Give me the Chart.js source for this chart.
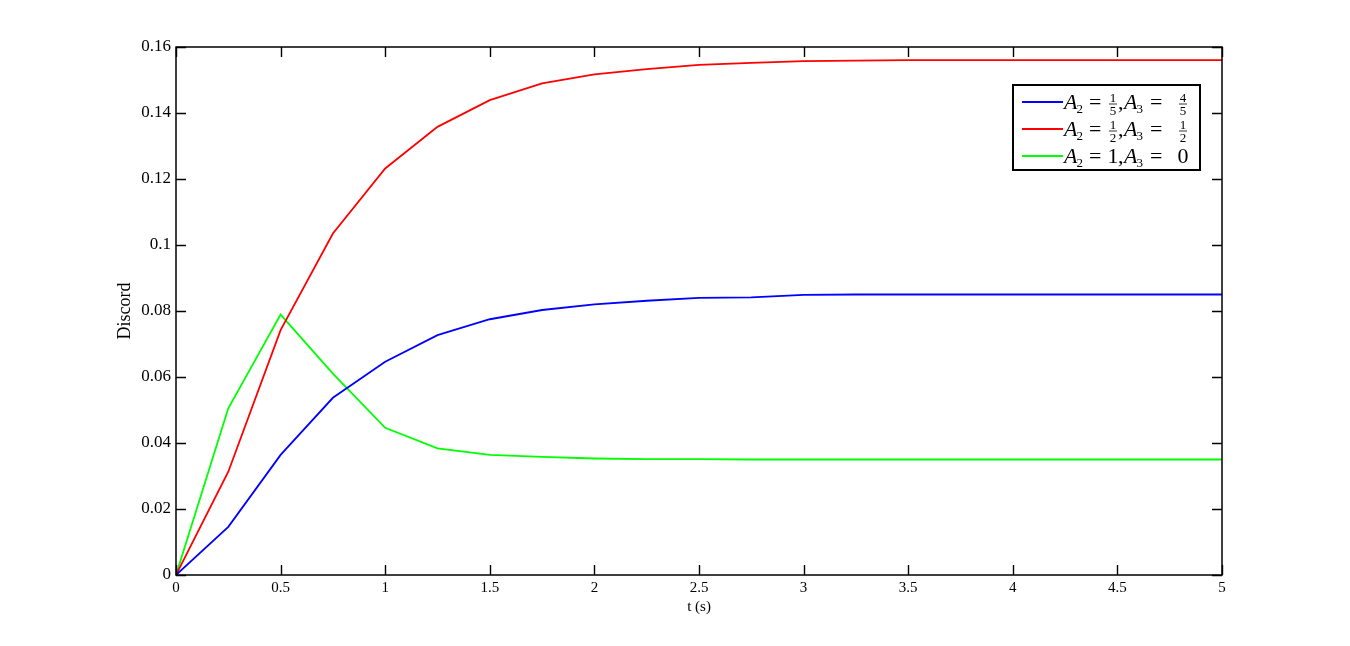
<!DOCTYPE html>
<html>
<head>
<meta charset="utf-8">
<script src="https://cdn.jsdelivr.net/npm/chart.js@4.4.1/dist/chart.umd.min.js"></script>
<style>
html,body{margin:0;padding:0;background:#fff;}
canvas{display:block;}
</style>
</head>
<body>
<canvas id="c" width="1350" height="646"></canvas>
<script>
// ---- data ----
const times = [0,0.25,0.5,0.75,1,1.25,1.5,1.75,2,2.25,2.5,2.75,3,3.25,3.5,3.75,4,4.25,4.5,4.75,5];
const blueSeries  = [0,0.0146,0.0364,0.0537,0.0646,0.0727,0.0775,0.0803,0.0820,0.0831,0.0840,0.0841,0.0849,0.0850,0.0850,0.0850,0.0850,0.0850,0.0850,0.0850,0.0850];
const redSeries   = [0,0.0313,0.0742,0.1035,0.1232,0.1358,0.1439,0.1490,0.1517,0.1533,0.1546,0.1552,0.1557,0.1559,0.1560,0.1560,0.1560,0.1560,0.1560,0.1560,0.1560];
const greenSeries = [0,0.0505,0.0789,0.0610,0.0446,0.0384,0.0364,0.0358,0.0353,0.0351,0.0351,0.0350,0.0350,0.0350,0.0350,0.0350,0.0350,0.0350,0.0350,0.0350,0.0350];
const xTickLabels = ['0','0.5','1','1.5','2','2.5','3','3.5','4','4.5','5'];
const yTickLabels = ['0','0.02','0.04','0.06','0.08','0.1','0.12','0.14','0.16'];
const seriesColors = ['#0000ff','#ff0000','#00ff00'];
// legend entries: [A2 value, A3 value]; fraction as [num, den]
const legendValues = [[[1,5],[4,5]], [[1,2],[1,2]], ['1','0']];

const toPts = arr => arr.map((v,i)=>({x:times[i], y:v}));

const SERIF = '"Liberation Serif", "DejaVu Serif", serif';

const frame = {
  id:'frame',
  afterDatasetsDraw(chart){
    const {ctx, chartArea:a, scales:{x, y}} = chart;
    ctx.save();
    ctx.strokeStyle = '#000';
    ctx.lineWidth = 1.5;
    ctx.strokeRect(a.left, a.top, a.right-a.left, a.bottom-a.top);
    ctx.lineWidth = 1.4;
    const L = 10;
    ctx.beginPath();
    x.ticks.forEach(t=>{
      const px = Math.round(x.getPixelForValue(t.value))+0.5;
      ctx.moveTo(px, a.bottom); ctx.lineTo(px, a.bottom-L);
      ctx.moveTo(px, a.top); ctx.lineTo(px, a.top+L);
    });
    y.ticks.forEach(t=>{
      const py = Math.round(y.getPixelForValue(t.value))+0.5;
      ctx.moveTo(a.left, py); ctx.lineTo(a.left+L, py);
      ctx.moveTo(a.right, py); ctx.lineTo(a.right-L, py);
    });
    ctx.stroke();

    // legend
    const bx = 1013, by = 85, bw = 187, bh = 85;
    ctx.fillStyle = '#fff';
    ctx.fillRect(bx, by, bw, bh);
    ctx.strokeStyle = '#000';
    ctx.lineWidth = 2;
    ctx.strokeRect(bx, by, bw, bh);
    const rows = [17, 44, 71];
    rows.forEach((dy, i)=>{
      const ry = by + dy;
      ctx.strokeStyle = seriesColors[i];
      ctx.lineWidth = 2;
      ctx.beginPath(); ctx.moveTo(1022, ry); ctx.lineTo(1063, ry); ctx.stroke();
      ctx.fillStyle = '#000';
      const base = ry + 7;
      const drawA = (x0, sub) => {
        ctx.font = 'italic 22px ' + SERIF;
        ctx.textAlign = 'left'; ctx.textBaseline = 'alphabetic';
        ctx.fillText('A', x0, base);
        const w = ctx.measureText('A').width;
        ctx.font = '13px ' + SERIF;
        ctx.fillText(sub, x0 + w - 1, base + 4);
      };
      const drawVal = (cx, v) => {
        ctx.textAlign = 'center'; ctx.textBaseline = 'alphabetic';
        if (Array.isArray(v)) {
          ctx.font = '13px ' + SERIF;
          ctx.fillText(String(v[0]), cx, ry - 0.5);
          ctx.fillText(String(v[1]), cx, ry + 13);
          ctx.strokeStyle = '#000'; ctx.lineWidth = 0.8;
          ctx.beginPath(); ctx.moveTo(cx-4, ry+2); ctx.lineTo(cx+4, ry+2); ctx.stroke();
        } else {
          ctx.font = '22px ' + SERIF;
          ctx.fillText(v, cx, base);
        }
      };
      const vals = legendValues[i];
      drawA(bx+51, '2');
      ctx.font = '22px ' + SERIF; ctx.textAlign='left';
      ctx.fillText('=', bx+76, base);
      drawVal(bx+100, vals[0]);
      ctx.font = '22px ' + SERIF; ctx.textAlign='left';
      ctx.fillText(',', bx+105, base);
      drawA(bx+111, '3');
      ctx.font = '22px ' + SERIF; ctx.textAlign='left';
      ctx.fillText('=', bx+137, base);
      drawVal(bx+170, vals[1]);
    });
    ctx.restore();
  }
};

const mk = (label, data, color) => ({
  label, data: toPts(data), borderColor: color, backgroundColor: color,
  borderWidth: 1.8, pointRadius: 0, tension: 0, fill: false
});

new Chart(document.getElementById('c'), {
  type: 'line',
  data: {
    datasets: [
      mk('A2 = 1/5, A3 = 4/5', blueSeries, seriesColors[0]),
      mk('A2 = 1/2, A3 = 1/2', redSeries, seriesColors[1]),
      mk('A2 = 1, A3 = 0', greenSeries, seriesColors[2])
    ]
  },
  options: {
    responsive: false,
    animation: false,
    devicePixelRatio: 1,
    layout: { padding: { left: 114, top: 47, right: 128, bottom: 30 } },
    plugins: { legend: { display: false }, tooltip: { enabled: false } },
    scales: {
      x: {
        type: 'linear', min: 0, max: 5,
        grid: { display: false, drawTicks: false },
        border: { display: false },
        ticks: {
          stepSize: 0.5, padding: 4, color: '#000', maxRotation: 0,
          font: { family: SERIF, size: 15 },
          callback: (v, i) => xTickLabels[i]
        },
        title: { display: true, text: 't (s)', color: '#000', padding: { top: 0, bottom: 0 },
                 font: { family: SERIF, size: 15 } },
        afterFit: s => { s.height = 41; }
      },
      y: {
        type: 'linear', min: 0, max: 0.16,
        grid: { display: false, drawTicks: false },
        border: { display: false },
        ticks: {
          stepSize: 0.02, padding: 5, color: '#000',
          font: { family: SERIF, size: 17 },
          callback: (v, i) => yTickLabels[i]
        },
        title: { display: true, text: 'Discord', color: '#000', padding: { top: 0, bottom: 0 },
                 font: { family: SERIF, size: 18 } },
        afterFit: s => { s.width = 62; }
      }
    }
  },
  plugins: [frame]
});
</script>
</body>
</html>
